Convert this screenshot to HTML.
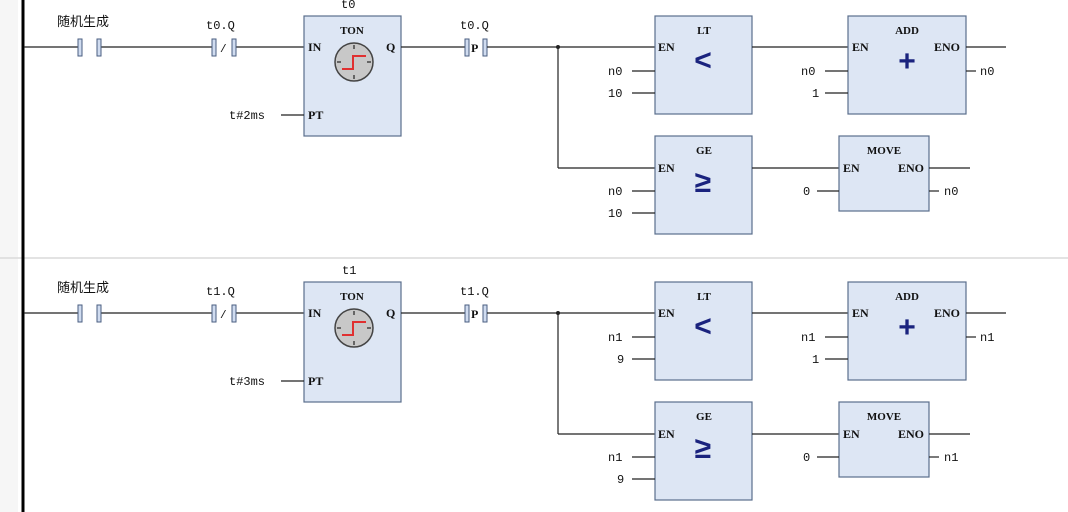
<!DOCTYPE html>
<html><head><meta charset="utf-8"><style>
html,body{margin:0;padding:0;background:#fff;width:1068px;height:512px;overflow:hidden}
svg text{font-family:"Liberation Mono",monospace;font-size:12px;fill:#111}
.t{font-family:"Liberation Serif",serif;font-weight:bold;font-size:11px;fill:#111}
.cj{font-family:"Liberation Sans","Noto Sans CJK SC",sans-serif;font-size:13px}
.w{stroke:#222;stroke-width:1.2;fill:none}
.box{fill:#dde6f4;stroke:#5a6e8c;stroke-width:1.2}
.bar{fill:#d0dcf0;stroke:#4a5e80;stroke-width:1}
.sym{font-family:"Liberation Sans",sans-serif;fill:#1a237e;font-size:30px}
</style></head><body>
<svg width="1068" height="512" xmlns="http://www.w3.org/2000/svg">
<rect x="0" y="0" width="18" height="512" fill="#f6f6f6"/>
<line x1="0" y1="258" x2="1068" y2="258" stroke="#dadada" stroke-width="1.5"/>
<line x1="23" y1="0" x2="23" y2="512" stroke="#000" stroke-width="3"/>

<defs>
<g id="clock">
<circle cx="0" cy="0" r="19" fill="#c8c8c8" stroke="#444" stroke-width="1.5"/>
<g stroke="#444" stroke-width="1.5">
<line x1="0" y1="-17" x2="0" y2="-13"/><line x1="0" y1="17" x2="0" y2="13"/>
<line x1="-17" y1="0" x2="-13" y2="0"/><line x1="17" y1="0" x2="13" y2="0"/>
</g>
<polyline points="-12,7 -1,7 -1,-6 12,-6" fill="none" stroke="#e03030" stroke-width="2"/>
</g>
</defs>

<g id="r1">
<line class="w" x1="24" y1="47" x2="79" y2="47"/>
<line class="w" x1="101" y1="47" x2="214" y2="47"/>
<line class="w" x1="236" y1="47" x2="304" y2="47"/>
<rect class="bar" x="78" y="39" width="4" height="17"/><rect class="bar" x="97" y="39" width="4" height="17"/>
<rect class="bar" x="212" y="39" width="4" height="17"/><rect class="bar" x="232" y="39" width="4" height="17"/>
<text x="220" y="52" style="font-size:11px">/</text>
<rect class="box" x="304" y="16" width="97" height="120"/>
<text class="t" x="352" y="34" text-anchor="middle">TON</text>
<text x="308" y="51" class="t" style="font-size:12px">IN</text>
<text x="386" y="51" class="t" style="font-size:12px">Q</text>
<text x="308" y="119" class="t" style="font-size:12px">PT</text>
<use href="#clock" x="354" y="62"/>
<line class="w" x1="281" y1="115" x2="304" y2="115"/>
<line class="w" x1="401" y1="47" x2="466" y2="47"/>
<rect class="bar" x="465" y="39" width="4" height="17"/><rect class="bar" x="483" y="39" width="4" height="17"/>
<text x="471" y="52" class="t" style="font-size:12px">P</text>
<line class="w" x1="487" y1="47" x2="655" y2="47"/>
<circle cx="558" cy="47" r="2" fill="#222"/>
<line class="w" x1="558" y1="47" x2="558" y2="168"/>
<line class="w" x1="558" y1="168" x2="655" y2="168"/>
<rect class="box" x="655" y="16" width="97" height="98"/>
<text class="t" x="704" y="34" text-anchor="middle">LT</text>
<text x="658" y="51" class="t" style="font-size:12px">EN</text>
<text class="sym" x="703" y="70" text-anchor="middle" style="font-weight:bold">&lt;</text>
<line class="w" x1="632" y1="71" x2="655" y2="71"/>
<line class="w" x1="632" y1="93" x2="655" y2="93"/>
<line class="w" x1="752" y1="47" x2="848" y2="47"/>
<rect class="box" x="848" y="16" width="118" height="98"/>
<text class="t" x="907" y="34" text-anchor="middle">ADD</text>
<text x="852" y="51" class="t" style="font-size:12px">EN</text>
<text x="934" y="51" class="t" style="font-size:12px">ENO</text>
<text class="sym" x="907" y="71" text-anchor="middle" style="font-weight:bold">+</text>
<line class="w" x1="825" y1="71" x2="848" y2="71"/>
<line class="w" x1="825" y1="93" x2="848" y2="93"/>
<line class="w" x1="966" y1="47" x2="1006" y2="47"/>
<line class="w" x1="966" y1="71" x2="976" y2="71"/>
<rect class="box" x="655" y="136" width="97" height="98"/>
<text class="t" x="704" y="154" text-anchor="middle">GE</text>
<text x="658" y="172" class="t" style="font-size:12px">EN</text>
<text class="sym" x="703" y="192" text-anchor="middle" style="font-weight:bold">≥</text>
<line class="w" x1="632" y1="191" x2="655" y2="191"/>
<line class="w" x1="632" y1="213" x2="655" y2="213"/>
<line class="w" x1="752" y1="168" x2="839" y2="168"/>
<rect class="box" x="839" y="136" width="90" height="75"/>
<text class="t" x="884" y="154" text-anchor="middle">MOVE</text>
<text x="843" y="172" class="t" style="font-size:12px">EN</text>
<text x="898" y="172" class="t" style="font-size:12px">ENO</text>
<line class="w" x1="817" y1="191" x2="839" y2="191"/>
<line class="w" x1="929" y1="168" x2="970" y2="168"/>
<line class="w" x1="929" y1="191" x2="939" y2="191"/>
</g>
<use href="#r1" x="0" y="266"/>

<text class="cj" x="57" y="26">随机生成</text>
<text x="206" y="29">t0.Q</text>
<text x="341" y="8">t0</text>
<text x="229" y="119">t#2ms</text>
<text x="460" y="29">t0.Q</text>
<text x="608" y="75">n0</text><text x="608" y="97">10</text>
<text x="801" y="75">n0</text><text x="812" y="97">1</text>
<text x="980" y="75">n0</text>
<text x="608" y="195">n0</text><text x="608" y="217">10</text>
<text x="803" y="195">0</text>
<text x="944" y="195">n0</text>
<text class="cj" x="57" y="292">随机生成</text>
<text x="206" y="295">t1.Q</text>
<text x="342" y="274">t1</text>
<text x="229" y="385">t#3ms</text>
<text x="460" y="295">t1.Q</text>
<text x="608" y="341">n1</text><text x="617" y="363">9</text>
<text x="801" y="341">n1</text><text x="812" y="363">1</text>
<text x="980" y="341">n1</text>
<text x="608" y="461">n1</text><text x="617" y="483">9</text>
<text x="803" y="461">0</text>
<text x="944" y="461">n1</text>
</svg>
</body></html>
